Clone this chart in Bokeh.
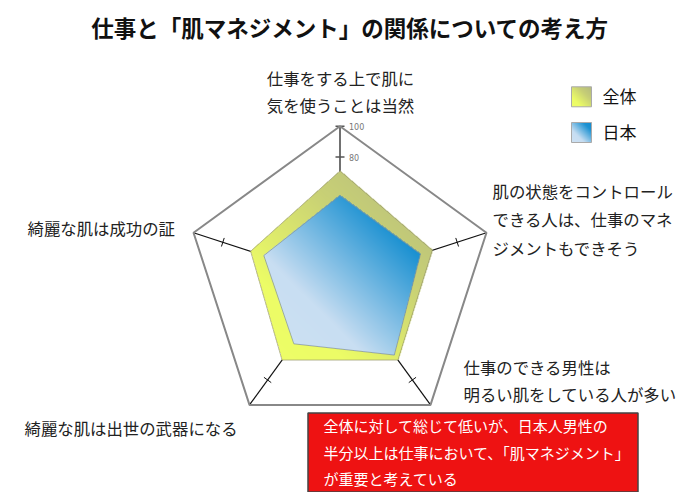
import numpy as np
from bokeh.plotting import figure
from bokeh.models import Range1d
from bokeh.core.properties import value
from bokeh.embed import file_html
from bokeh.resources import INLINE

# ---------------- data ----------------
title_text = "仕事と「肌マネジメント」の関係についての考え方"
categories = [
    "仕事をする上で肌に\n気を使うことは当然",
    "肌の状態をコントロール\nできる人は、仕事のマネ\nジメントもできそう",
    "仕事のできる男性は\n明るい肌をしている人が多い",
    "綺麗な肌は出世の武器になる",
    "綺麗な肌は成功の証",
]
series_names = ["全体", "日本"]
zentai = [71, 63, 64, 64, 61]
nihon = [55, 55, 60, 51, 52]
tick_values = [80, 100]
tick_labels = ["80", "100"]
r_max = 100
note_lines = [
    "全体に対して総じて低いが、日本人男性の",
    "半分以上は仕事において、「肌マネジメント」",
    "が重要と考えている",
]

# ---------------- layout ----------------
W, H = 692, 492
FONT = value("Noto Sans CJK JP")


def py(y):  # page y -> data y (y up)
    return H - y


def px(x):
    return x


CX, CY, R = px(339.5), py(279.8), 154.0
angles = np.deg2rad(90 - 72 * np.arange(len(categories)))


def radar_xy(vals):
    r = np.asarray(vals, float) / r_max * R
    return CX + r * np.cos(angles), CY + r * np.sin(angles)


def gradient_rgba(xs, ys, stops, res=3):
    xs = np.asarray(xs, float)
    ys = np.asarray(ys, float)
    x0, x1, y0, y1 = xs.min(), xs.max(), ys.min(), ys.max()
    nx = int(np.ceil((x1 - x0) * res))
    ny = int(np.ceil((y1 - y0) * res))
    gx = x0 + (np.arange(nx) + 0.5) / res
    gy = y0 + (np.arange(ny) + 0.5) / res
    X, Y = np.meshgrid(gx, gy)
    dx, dy = x0 - x1, y0 - y1
    t = ((X - x1) * dx + (Y - y1) * dy) / (dx * dx + dy * dy)
    t = np.clip(t, 0, 1)
    tp = [s[0] for s in stops]
    inside = np.zeros(X.shape, bool)
    n = len(xs)
    j = n - 1
    for i in range(n):
        xi, yi, xj, yj = xs[i], ys[i], xs[j], ys[j]
        if yj != yi:
            cond = ((yi > Y) != (yj > Y)) & (X < (xj - xi) * (Y - yi) / (yj - yi) + xi)
            inside ^= cond
        j = i
    img = np.zeros((ny, nx), dtype=np.uint32)
    v = img.view(np.uint8).reshape(ny, nx, 4)
    for c in range(3):
        v[..., c] = np.interp(t, tp, [s[1][c] for s in stops]).astype(np.uint8)
    v[..., 3] = np.where(inside, 255, 0)
    return img, x0, y0, nx / res, ny / res


yellow_stops = [(0, (180, 186, 128)), (0.35, (200, 208, 118)), (0.75, (236, 252, 102)), (1, (238, 255, 104))]
blue_stops = [(0, (22, 140, 208)), (0.2, (28, 146, 210)), (0.68, (200, 222, 242)), (1, (206, 226, 244))]

p = figure(width=W, height=H, output_backend="svg", toolbar_location=None,
           x_range=Range1d(0, W), y_range=Range1d(0, H), min_border=0)
p.axis.visible = False
p.grid.visible = False
p.outline_line_color = None
p.background_fill_color = "white"

# spokes
ox, oy = radar_xy([r_max] * len(categories))
p.segment(x0=[CX] * len(ox), y0=[CY] * len(oy), x1=ox, y1=oy, line_color="#111111", line_width=1.2)

# ticks at 80 (perpendicular), plus 100 on top axis
tl = 4.5
for k, a in enumerate(angles):
    vals = tick_values if k == 0 else tick_values[:1]
    for tv in vals:
        r = tv / r_max * R
        bx, by = CX + r * np.cos(a), CY + r * np.sin(a)
        nxp, nyp = -np.sin(a), np.cos(a)
        p.segment(x0=[bx - tl * nxp], y0=[by - tl * nyp], x1=[bx + tl * nxp], y1=[by + tl * nyp],
                  line_color="#555555" if k == 0 else "#111111", line_width=1.5 if k == 0 else 1)

# series polygons with gradient fill
for vals, stops, lc in [(zentai, yellow_stops, "#9a9a70"), (nihon, blue_stops, "#8090a0")]:
    xs, ys = radar_xy(vals)
    img, x0, y0, dw, dh = gradient_rgba(xs, ys, stops)
    p.image_rgba(image=[img], x=x0, y=y0, dw=dw, dh=dh)
    p.patch(x=list(xs), y=list(ys), fill_alpha=0, line_color=lc, line_width=1, line_alpha=0.7)

# outer pentagon
p.patch(x=list(ox), y=list(oy), fill_alpha=0, line_color="#888888", line_width=2)

# tick labels on top axis
for tv, lab in zip(tick_values, tick_labels):
    r = tv / r_max * R
    p.text(x=[CX + 9], y=[CY + r], text=[lab], text_font=value("DejaVu Sans"), text_font_size="8px",
           text_color="#777777", text_baseline="middle", text_align="left")

# category labels
label_pos = [  # (x, first-line y, align, line spacing) in page px
    (340, 77, "center", 27.5),
    (492, 190, "left", 28.5),
    (463, 366, "left", 27.5),
    (24, 427, "left", 28),
    (27, 227, "left", 28),
]
for cat, (lx, ly, al, sp) in zip(categories, label_pos):
    lines = cat.split("\n")
    p.text(x=[px(lx)] * len(lines), y=[py(ly + i * sp) for i in range(len(lines))], text=lines,
           text_font=FONT, text_font_size="16.4px", text_color="#222222",
           text_align=al, text_baseline="middle")

# legend
leg_y = [96.3, 132]
for name, stops, ly in zip(series_names, [yellow_stops, blue_stops], leg_y):
    sx = [px(571), px(591), px(591), px(571)]
    sy = [py(ly - 10), py(ly - 10), py(ly + 10), py(ly + 10)]
    img, x0, y0, dw, dh = gradient_rgba(sx, sy, stops)
    p.image_rgba(image=[img], x=x0, y=y0, dw=dw, dh=dh)
    p.patch(x=sx, y=sy, fill_alpha=0, line_color="#aaaaaa", line_width=1)
    p.text(x=[px(602)], y=[py(ly - 1)], text=[name], text_font=FONT, text_font_size="17px",
           text_color="#111111", text_baseline="middle")

# title
p.text(x=[px(349.5)], y=[py(26)], text=[title_text], text_font=FONT, text_font_size="22.5px",
       text_font_style="bold", text_color="#111111", text_align="center", text_baseline="middle")

# note box
p.quad(left=[px(307.5)], right=[px(637.5)], top=[py(412.5)], bottom=[py(491.5)],
       fill_color="#EE1212", line_color="#444444", line_width=1.5)
p.text(x=[px(323)] * len(note_lines), y=[py(425 + i * 26.7) for i in range(len(note_lines))],
       text=note_lines, text_font=FONT, text_font_size="15px", text_color="white",
       text_baseline="middle", text_align="left")

open("out.html", "w").write(file_html(p, INLINE))
